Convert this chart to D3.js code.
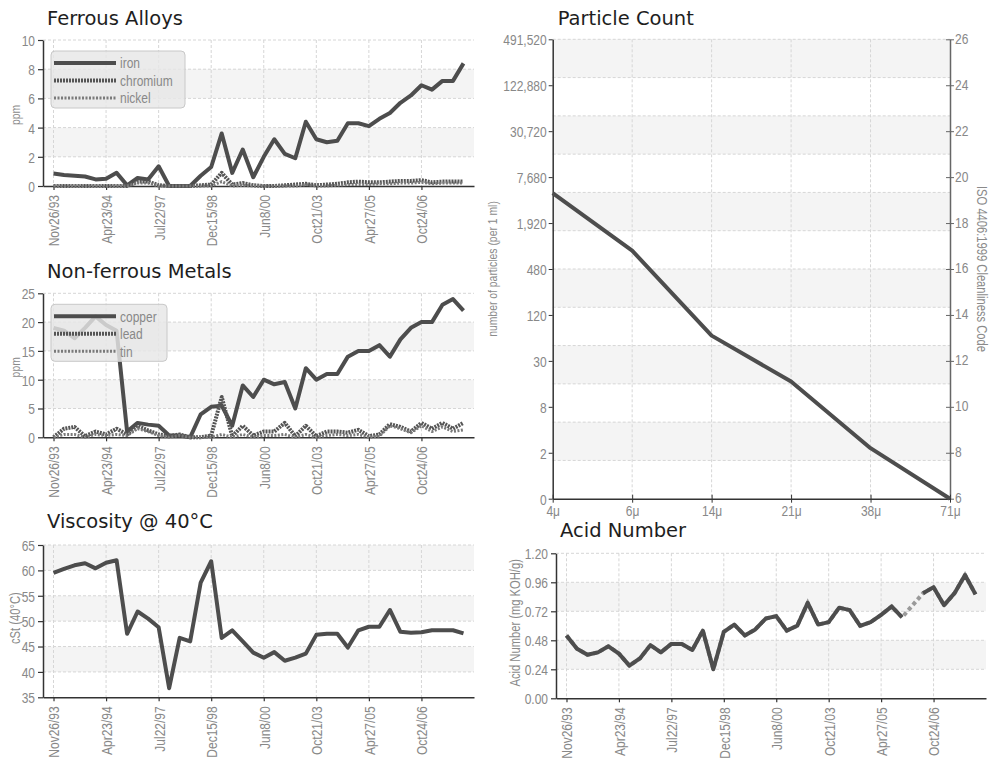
<!DOCTYPE html>
<html>
<head>
<meta charset="utf-8">
<script src="https://cdn.jsdelivr.net/npm/d3@7"></script>
<style>
body { margin: 0; background: #fff; }
svg text { font-family: "Liberation Sans", Arial, sans-serif; }
.title { font-family: "DejaVu Sans", Verdana, sans-serif !important; font-size: 19.5px; fill: #1e1e1e; }
.tick text { fill: #888; font-size: 15px; }
.axlabel { fill: #8a8a8a; font-size: 13px; }
.legend text { fill: #888; font-size: 15px; }
</style>
</head>
<body>
<svg id="chart" width="995" height="765"></svg>
<script>
// sample dates shown on the x axis (every 5th sample of 40)
let tickLabels = ["Nov26/93", "Apr23/94", "Jul22/97", "Dec15/98", "Jun8/00", "Oct21/03", "Apr27/05", "Oct24/06"];
let nSamples = 40;

let iron = [0.85, 0.75, 0.7, 0.65, 0.45, 0.5, 0.9, 0.05, 0.55, 0.45, 1.35, 0, 0, 0, 0.7, 1.3, 3.6, 0.9, 2.5, 0.6,
	2.0, 3.2, 2.2, 1.9, 4.4, 3.2, 3.0, 3.1, 4.3, 4.3, 4.1, 4.6, 5.0, 5.7, 6.2, 6.9, 6.6, 7.2, 7.2, 8.4];
let chromium = [0, 0, 0, 0, 0, 0, 0, 0, 0.3, 0.3, 0.05, 0, 0, 0, 0.05, 0.1, 0.9, 0.1, 0.2, 0.05,
	0, 0, 0.05, 0.1, 0.15, 0.05, 0.1, 0.15, 0.25, 0.3, 0.25, 0.25, 0.3, 0.35, 0.35, 0.4, 0.25, 0.3, 0.3, 0.3];
let nickel = [0, 0, 0, 0, 0, 0, 0, 0, 0.2, 0.2, 0, 0, 0, 0, 0, 0, 0.3, 0, 0.05, 0,
	0, 0, 0, 0, 0.1, 0, 0, 0.05, 0.1, 0.1, 0.1, 0.15, 0.15, 0.2, 0.2, 0.25, 0.15, 0.2, 0.2, 0.2];

let copper = [19, 18.5, 17.2, 19, 21, 19.5, 18.5, 1, 2.5, 2.2, 2, 0.3, 0.3, 0, 4, 5.3, 5.5, 2, 9, 7,
	10, 9.2, 9.6, 5, 12, 10, 11, 11, 14, 15, 15, 16, 14, 17, 19, 20, 20, 23, 24, 22];
let lead = [0, 1.5, 1.8, 0.2, 1, 0.5, 1.5, 0.5, 2, 1.2, 0.5, 0.2, 0.5, 0, 0, 0.3, 7, 0.2, 2, 0.3,
	1, 1, 2.5, 0.2, 2, 0.2, 1, 1, 0.8, 1.3, 0.2, 0.5, 2.3, 1.8, 1, 2.5, 1.5, 2.5, 1.5, 2.5];
let tin = [0, 0.5, 0.5, 0, 0.5, 0.3, 0.5, 0.3, 1.5, 1, 0.3, 0, 0.3, 0, 0, 0, 0.5, 0, 0.5, 0,
	0.3, 0.3, 0.5, 0, 0.5, 0, 0.3, 0.5, 0.3, 0.5, 0, 0.2, 2, 1.5, 0.8, 2, 1, 1.8, 1, 1.3];

let viscosity = [59.5, 60.3, 61, 61.4, 60.4, 61.5, 62, 47.5, 51.9, 50.5, 48.8, 36.8, 46.7, 46, 57.6, 61.8, 46.7, 48.2, 46, 43.8,
	42.8, 43.9, 42.2, 42.8, 43.6, 47.3, 47.5, 47.5, 44.8, 48.2, 48.9, 48.9, 52.2, 47.9, 47.7, 47.8, 48.2, 48.2, 48.2, 47.6];

let acid = [0.52, 0.41, 0.36, 0.38, 0.43, 0.37, 0.27, 0.33, 0.44, 0.38, 0.45, 0.45, 0.40, 0.56, 0.24, 0.55, 0.61, 0.52, 0.57, 0.66,
	0.68, 0.56, 0.60, 0.79, 0.61, 0.63, 0.75, 0.73, 0.60, 0.63, 0.69, 0.76, 0.67, null, 0.87, 0.92, 0.77, 0.87, 1.02, 0.86];

let particleSizes = ["4\u03bc", "6\u03bc", "14\u03bc", "21\u03bc", "38\u03bc", "71\u03bc"];
let isoCode = [19.3, 16.8, 13.1, 11.1, 8.2, 6];
let isoTicks = [6, 8, 10, 12, 14, 16, 18, 20, 22, 24, 26];
let countLabels = ["0", "2", "8", "30", "120", "480", "1,920", "7,680", "30,720", "122,880", "491,520"];

let svg = d3.select("#chart");
let squeeze = 0.8; // no narrow font installed, so squash text horizontally

let styles = {
	solid: { stroke: "#4d4d4d", width: 4, dash: null },
	dots: { stroke: "#555", width: 4, dash: "2,1" },
	fine: { stroke: "#7a7a7a", width: 3, dash: "2,1.5" }
};

// put a text at (tx,ty) with optional rotation, condensed along its own direction
function narrow(sel, tx, ty, rot) {
	sel.attr("x", 0).attr("y", 0)
		.attr("transform", `translate(${tx},${ty})` + (rot ? ` rotate(${rot})` : "") + ` scale(${squeeze},1)`);
}

function bandsAndGrid(g, yVals, y, xLeft, xRight) {
	for (let i = 0; i < yVals.length - 1; i++) {
		if (i % 2 == 1) {
			g.append("rect")
				.attr("x", xLeft).attr("width", xRight - xLeft)
				.attr("y", y(yVals[i + 1])).attr("height", y(yVals[i]) - y(yVals[i + 1]))
				.attr("fill", "#f4f4f4");
		}
	}
	g.selectAll(".hgrid").data(yVals.slice(1)).enter().append("line")
		.attr("x1", xLeft).attr("x2", xRight)
		.attr("y1", d => y(d)).attr("y2", d => y(d))
		.attr("stroke", "#d6d6d6").attr("stroke-dasharray", "3,2");
}

function panel(opt) {
	let g = svg.append("g");
	let idx = d3.range(nSamples);
	let x = d3.scalePoint().domain(idx).range([opt.x0, opt.x1]).padding(1);
	let y = d3.scaleLinear().domain(opt.domain).range([opt.y0, opt.y1]);
	let tickIdx = idx.filter(i => i % 5 == 0);

	bandsAndGrid(g, opt.ticks, y, opt.x0, opt.x1);
	g.selectAll(".vgrid").data(tickIdx).enter().append("line")
		.attr("x1", d => x(d)).attr("x2", d => x(d))
		.attr("y1", opt.y1).attr("y2", opt.y0)
		.attr("stroke", "#d6d6d6").attr("stroke-dasharray", "3,2");

	g.append("text").attr("class", "title")
		.attr("x", opt.x0 + 4).attr("y", opt.titleY).text(opt.title);

	let yAxis = g.append("g")
		.attr("transform", `translate(${opt.x0},0)`)
		.call(d3.axisLeft(y).tickValues(opt.ticks).tickSizeInner(5).tickSizeOuter(0).tickFormat(opt.fmt || d3.format("")));
	yAxis.selectAll(".tick text").each(function() { narrow(d3.select(this).attr("dy", "0.36em"), -8, 0); });

	let xAxis = g.append("g")
		.attr("transform", `translate(0,${opt.y0})`)
		.call(d3.axisBottom(x).tickValues(tickIdx).tickSizeInner(4).tickSizeOuter(0).tickFormat(i => tickLabels[i / 5]));
	xAxis.selectAll(".tick text").each(function() {
		narrow(d3.select(this).attr("text-anchor", "end").attr("dy", "0.36em"), 0, 9, -90);
	});
	[yAxis, xAxis].forEach(a => {
		a.select(".domain").attr("stroke", "#333").attr("stroke-width", 1.5);
		a.selectAll(".tick line").attr("stroke", "#333").attr("stroke-width", 1.2);
	});

	g.append("text").attr("class", "axlabel")
		.attr("text-anchor", "middle").attr("dy", "0.35em")
		.style("font-size", opt.labelSize + "px")
		.text(opt.yLabel)
		.call(narrow, opt.labelX, (opt.y0 + opt.y1) / 2 + opt.labelDy, -90);

	let line = d3.line().defined(v => v != null).x((v, i) => x(i)).y(v => y(v));
	opt.series.forEach(s => {
		let st = styles[s.style];
		if (s.values.some(v => v == null)) {
			// gap in the samples shown as a light dashed bridge
			let pts = s.values.map((v, i) => [i, v]).filter(p => p[1] != null);
			g.append("path")
				.attr("d", d3.line().x(p => x(p[0])).y(p => y(p[1]))(pts))
				.attr("fill", "none").attr("stroke", "#9a9a9a")
				.attr("stroke-width", 4).attr("stroke-dasharray", "4,3");
		}
		g.append("path")
			.attr("d", line(s.values))
			.attr("fill", "none")
			.attr("stroke", st.stroke)
			.attr("stroke-width", st.width)
			.attr("stroke-dasharray", st.dash)
			.attr("stroke-linejoin", "round");
	});

	if (opt.legend) {
		let lg = g.append("g").attr("class", "legend");
		let lx = opt.x0 + 8, ly = opt.y1 + 11;
		lg.append("rect")
			.attr("x", lx).attr("y", ly).attr("rx", 4)
			.attr("width", opt.legendW).attr("height", 57)
			.attr("fill", "#e6e6e6").attr("fill-opacity", 0.82)
			.attr("stroke", "#c8c8c8");
		opt.series.forEach((s, i) => {
			let st = styles[s.style];
			let yy = ly + 12 + i * 17.5;
			lg.append("line")
				.attr("x1", lx + 3).attr("x2", lx + 65)
				.attr("y1", yy).attr("y2", yy)
				.attr("stroke", st.stroke).attr("stroke-width", st.width)
				.attr("stroke-dasharray", st.dash);
			lg.append("text").attr("dy", "0.35em").text(s.name).call(narrow, lx + 69, yy);
		});
	}
}

panel({
	title: "Ferrous Alloys", titleY: 25,
	x0: 43, x1: 474, y0: 186, y1: 40,
	domain: [0, 10], ticks: [0, 2, 4, 6, 8, 10],
	yLabel: "ppm", labelX: 15, labelSize: 13, labelDy: 2, legend: true, legendW: 134,
	series: [
		{ name: "iron", values: iron, style: "solid" },
		{ name: "chromium", values: chromium, style: "dots" },
		{ name: "nickel", values: nickel, style: "fine" }
	]
});

panel({
	title: "Non-ferrous Metals", titleY: 278,
	x0: 43, x1: 474, y0: 437.3, y1: 293.3,
	domain: [0, 25], ticks: [0, 5, 10, 15, 20, 25],
	yLabel: "ppm", labelX: 15, labelSize: 13, labelDy: 2, legend: true, legendW: 116,
	series: [
		{ name: "copper", values: copper, style: "solid" },
		{ name: "lead", values: lead, style: "dots" },
		{ name: "tin", values: tin, style: "fine" }
	]
});

panel({
	title: "Viscosity @ 40\u00b0C", titleY: 528,
	x0: 43, x1: 474, y0: 697.3, y1: 545,
	domain: [35, 65], ticks: [35, 40, 45, 50, 55, 60, 65],
	yLabel: "cSt (40\u00b0C)", labelX: 15, labelSize: 14, labelDy: -3,
	series: [{ name: "viscosity", values: viscosity, style: "solid" }]
});

panel({
	title: "Acid Number", titleY: 537,
	x0: 556, x1: 986, y0: 698.3, y1: 553.3,
	domain: [0, 1.2], ticks: [0, 0.24, 0.48, 0.72, 0.96, 1.2],
	fmt: d3.format(".2f"),
	yLabel: "Acid Number (mg KOH/g)", labelX: 515, labelSize: 14, labelDy: -3,
	series: [{ name: "acid", values: acid, style: "solid" }]
});

// Particle count panel (two y axes)
(function() {
	let g = svg.append("g");
	let x0 = 552.7, x1 = 950, y0 = 498.7, y1 = 39.3;
	let x = d3.scalePoint().domain(particleSizes).range([x0, x1]);
	let y = d3.scaleLinear().domain([6, 26]).range([y0, y1]);

	// grid follows 12 equal divisions of the plot
	let gridVals = d3.range(13).map(i => 6 + i * 20 / 12);
	bandsAndGrid(g, gridVals, y, x0, x1);
	g.selectAll(".vgrid").data(particleSizes.slice(1, -1)).enter().append("line")
		.attr("x1", d => x(d)).attr("x2", d => x(d))
		.attr("y1", y1).attr("y2", y0)
		.attr("stroke", "#d6d6d6").attr("stroke-dasharray", "3,2");

	g.append("text").attr("class", "title").attr("x", x0 + 5).attr("y", 25).text("Particle Count");

	let left = g.append("g").attr("transform", `translate(${x0},0)`)
		.call(d3.axisLeft(y).tickValues(isoTicks).tickSizeInner(4).tickSizeOuter(0).tickFormat((d, i) => countLabels[i]));
	left.selectAll(".tick text").each(function() { narrow(d3.select(this).attr("dy", "0.36em"), -6, 0); });
	let right = g.append("g").attr("transform", `translate(${x1},0)`)
		.call(d3.axisRight(y).tickValues(isoTicks).tickSizeInner(4).tickSizeOuter(0));
	right.selectAll(".tick line").attr("x1", -4);
	right.selectAll(".tick text").each(function() { narrow(d3.select(this).attr("dy", "0.33em"), 5, -1); });
	let bottom = g.append("g").attr("transform", `translate(0,${y0})`)
		.call(d3.axisBottom(x).tickSizeInner(4).tickSizeOuter(0));
	bottom.selectAll(".tick line").attr("y1", -4);
	bottom.selectAll(".tick text").each(function() { narrow(d3.select(this).attr("dy", "0.71em"), 0, 6.5); });
	[left, bottom].forEach(a => {
		a.select(".domain").attr("stroke", "#333").attr("stroke-width", 1.5);
		a.selectAll(".tick line").attr("stroke", "#333");
	});
	right.select(".domain").attr("stroke", "#666").attr("stroke-width", 1.5);
	right.selectAll(".tick line").attr("stroke", "#666");

	g.append("text").attr("class", "axlabel")
		.attr("text-anchor", "middle").attr("dy", "0.35em")
		.text("number of particles (per 1 ml)")
		.call(narrow, 492, (y0 + y1) / 2, -90);
	g.append("text").attr("class", "axlabel")
		.attr("text-anchor", "middle").attr("dy", "0.35em")
		.style("font-size", "14px")
		.text("ISO 4406:1999 Cleanliness Code")
		.call(narrow, 982, (y0 + y1) / 2, 90);

	g.append("path")
		.attr("d", d3.line().x((v, i) => x(particleSizes[i])).y(v => y(v))(isoCode))
		.attr("fill", "none").attr("stroke", "#4d4d4d").attr("stroke-width", 4)
		.attr("stroke-linejoin", "round");
})();
</script>
</body>
</html>
